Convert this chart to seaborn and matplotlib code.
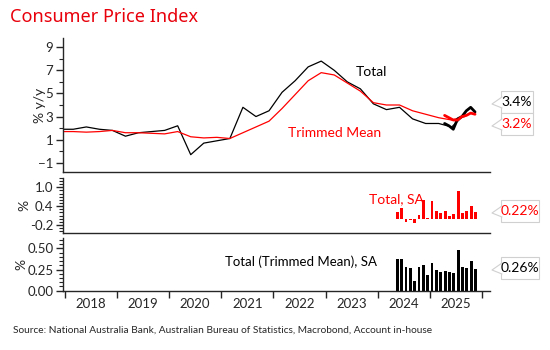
import numpy as np
import pandas as pd
import matplotlib.pyplot as plt
import seaborn as sns
from matplotlib.patches import Rectangle, Polygon
from matplotlib.lines import Line2D
from matplotlib.ticker import MultipleLocator

# quarterly y/y (%)
quarters = pd.period_range('2017Q4', '2025Q3', freq='Q')
total_yy = [1.9, 1.9, 2.1, 1.9, 1.8, 1.3, 1.6, 1.7, 1.8, 2.2, -0.3, 0.7, 0.9,
            1.1, 3.8, 3.0, 3.5, 5.1, 6.1, 7.3, 7.8, 7.0, 6.0, 5.4, 4.1,
            3.6, 3.8, 2.8, 2.4, 2.4, 2.1, 3.2]
trim_yy = [1.7, 1.7, 1.65, 1.7, 1.8, 1.6, 1.6, 1.55, 1.5, 1.7, 1.25, 1.15, 1.2,
           1.1, 1.6, 2.1, 2.6, 3.7, 4.9, 6.1, 6.8, 6.6, 5.9, 5.2, 4.2,
           4.0, 4.0, 3.5, 3.2, 2.9, 2.7, 3.0]

# monthly y/y (%)
months_yy = pd.period_range('2025-04', '2025-11', freq='M')
total_m_yy = [2.4, 2.2, 1.9, 2.8, 3.0, 3.5, 3.8, 3.4]
trim_m_yy = [3.1, 2.9, 2.7, 2.7, 3.0, 3.1, 3.3, 3.2]

# monthly m/m, seasonally adjusted (%)
months_mm = pd.period_range('2024-05', '2025-11', freq='M')
total_sa = [0.23, 0.35, -0.1, -0.03, -0.14, 0.12, 0.59, 0.01, 0.55, 0.25,
            0.17, 0.25, 0.08, 0.14, 0.89, 0.18, 0.25, 0.39, 0.22]
trim_sa = [0.38, 0.37, 0.28, 0.27, 0.11, 0.28, 0.30, 0.18, 0.33, 0.25,
           0.22, 0.23, 0.22, 0.21, 0.48, 0.285, 0.27, 0.35, 0.26]

years = list(range(2018, 2026))

RED = '#ff0000'
W, H = 550, 350

sns.set_style('ticks')
plt.rcParams['font.family'] = ['Lato', 'DejaVu Sans']
plt.rcParams['axes.linewidth'] = 1.0

xq = quarters.year + (quarters.quarter * 3 - 1) / 12
xm_yy = months_yy.year + (months_yy.month - 1) / 12 + 0.03
xm_mm = months_mm.year + (months_mm.month - 1) / 12 + 0.04

fig = plt.figure(figsize=(5.5, 3.5), dpi=100)
ax1 = fig.add_axes([63 / W, 1 - 172 / H, 427 / W, 134 / H])
ax2 = fig.add_axes([63 / W, 1 - 233 / H, 427 / W, 55.3 / H])
ax3 = fig.add_axes([63 / W, 1 - 290.7 / H, 427 / W, 52.4 / H])

sns.lineplot(x=xq, y=total_yy, ax=ax1, color='black', linewidth=0.9)
sns.lineplot(x=xq, y=trim_yy, ax=ax1, color=RED, linewidth=0.9)
sns.lineplot(x=xm_yy, y=total_m_yy, ax=ax1, color='black', linewidth=2)
sns.lineplot(x=xm_yy, y=trim_m_yy, ax=ax1, color=RED, linewidth=2)

ax2.bar(xm_mm, total_sa, width=0.65 / 12, color=RED, linewidth=0)
ax3.bar(xm_mm, trim_sa, width=0.65 / 12, color='black', linewidth=0)

for ax in (ax1, ax2, ax3):
    ax.set_xlim(2017.97, 2026.15)
    for s in ('top', 'right'):
        ax.spines[s].set_visible(False)
    ax.tick_params(axis='y', which='major', length=5, width=1, labelsize=9.5, pad=2)
    ax.tick_params(axis='y', which='minor', length=3, width=0.8)
    ax.set_xlabel('')

ax1.set_ylim(-1.8, 9.8)
ax1.set_yticks([-1, 1, 3, 5, 7, 9])
ax1.yaxis.set_minor_locator(MultipleLocator(1))
ax1.set_ylabel('% y/y', fontsize=10, labelpad=-6)

ax2.set_ylim(-0.45, 1.3)
ax2.set_yticks([-0.2, 0.4, 1.0])
ax2.set_yticklabels(['-0.2', '0.4', '1.0'])
ax2.yaxis.set_minor_locator(MultipleLocator(0.1))
ax2.set_ylabel('%', fontsize=10, labelpad=0)

ax3.set_ylim(0, 0.62)
ax3.set_yticks([0, 0.25, 0.5])
ax3.set_yticklabels(['0.00', '0.25', '0.50'])
ax3.yaxis.set_minor_locator(MultipleLocator(0.05))
ax3.set_ylabel('%', fontsize=10, labelpad=0)

for ax in (ax1, ax2):
    ax.set_xticks([])
    ax.set_xticks([], minor=True)

ax3.set_xticks(years + [2026])
ax3.set_xticklabels([])
ax3.set_xticks([y + 0.5 for y in years], minor=True)
ax3.set_xticklabels([str(y) for y in years], minor=True, fontsize=9.5)
ax3.tick_params(axis='x', which='major', length=5, width=1, direction='out')
ax3.tick_params(axis='x', which='minor', length=0, pad=5)

ax1.text(2023.88, 6.86, 'Total', fontsize=10, color='black', ha='center', va='center')
ax1.text(2023.18, 1.6, 'Trimmed Mean', fontsize=10, color=RED, ha='center', va='center')
ax2.text(2024.36, 0.61, 'Total, SA', fontsize=10, color=RED, ha='center', va='center')
ax3.text(2022.52, 0.34, 'Total (Trimmed Mean), SA', fontsize=9.5, color='black',
         ha='center', va='center')


def value_tag(text, color, yc, w):
    x0 = 501
    fig.patches.append(Rectangle((x0 / W, 1 - (yc + 11) / H), w / W, 22 / H,
                                 transform=fig.transFigure, fc='white',
                                 ec='#d0d0d0', lw=0.8))
    pts = [(x0 + 1, yc - 5), (492, yc + 2), (x0 + 1, yc + 6)]
    fpts = [(px / W, 1 - py / H) for px, py in pts]
    fig.patches.append(Polygon(fpts, closed=True, transform=fig.transFigure,
                               fc='white', ec='none', zorder=3))
    fig.lines.append(Line2D([p[0] for p in fpts], [p[1] for p in fpts],
                            transform=fig.transFigure, color='#d0d0d0', lw=0.8,
                            zorder=4))
    fig.text((x0 + w / 2) / W, 1 - yc / H, text, color=color, fontsize=10,
             ha='center', va='center', zorder=5)


value_tag(f'{total_m_yy[-1]:.1f}%', 'black', 102, 32)
value_tag(f'{trim_m_yy[-1]:.1f}%', RED, 124, 32)
value_tag(f'{total_sa[-1]:.2f}%', RED, 211, 38)
value_tag(f'{trim_sa[-1]:.2f}%', 'black', 268, 38)

fig.text(10 / W, 1 - 17 / H, 'Consumer Price Index', color='#e8000b', fontsize=13,
         ha='left', va='center', family=['Noto Sans', 'DejaVu Sans'])
fig.text(13 / W, 1 - 330 / H,
         'Source: National Australia Bank, Australian Bureau of Statistics, Macrobond, Account in-house',
         fontsize=7.3, ha='left', va='center')

fig.savefig('out.png', dpi=100)
